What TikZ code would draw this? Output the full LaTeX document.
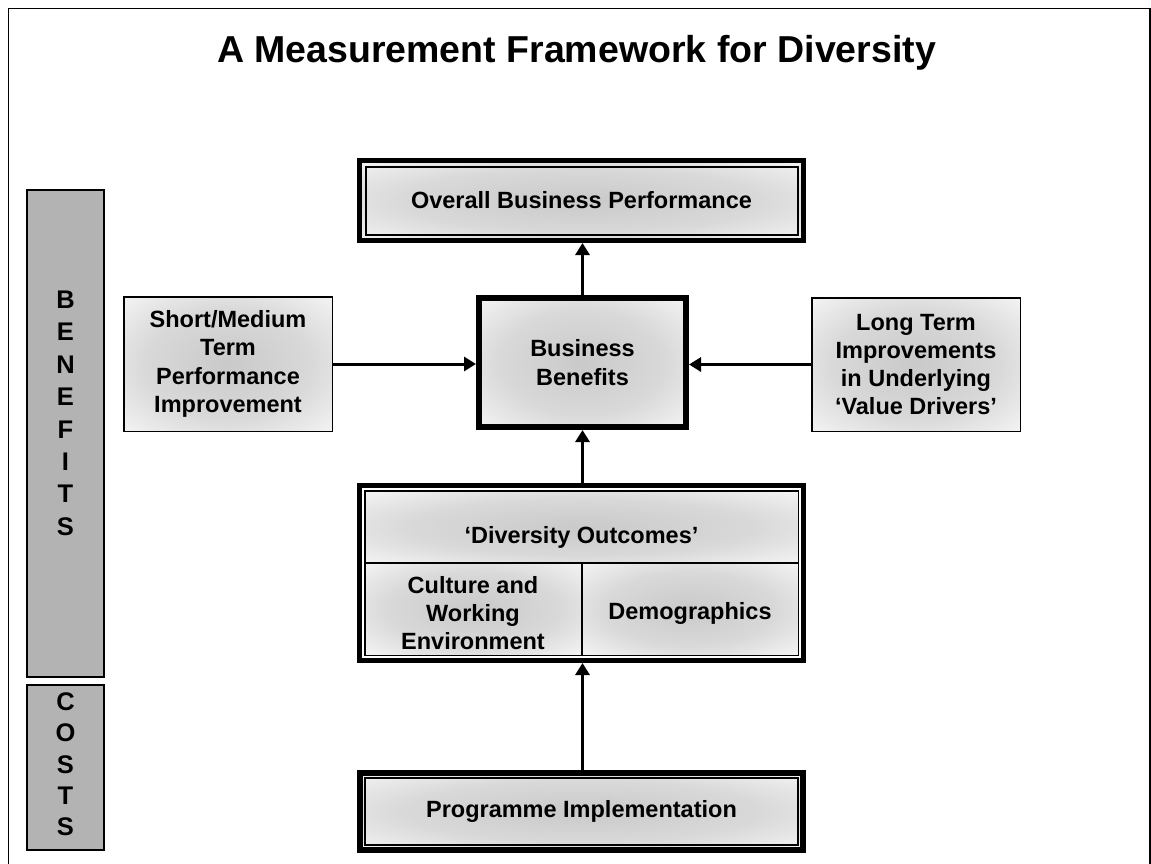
\documentclass[tikz,border=0pt]{standalone}
\usepackage{fontspec}
\setmainfont{Liberation Sans}
\usetikzlibrary{arrows.meta}
\pgfdeclareradialshading{boxglow}{\pgfpoint{0bp}{0bp}}{color(0bp)=(black!21); color(20bp)=(black!15); color(42bp)=(white); color(50bp)=(white)}
\definecolor{bargray}{HTML}{B3B3B3}
\begin{document}
\begin{tikzpicture}[x=1pt,y=-1pt,
  txt/.style={font=\bfseries\fontsize{23.5}{28.3}\selectfont, align=center},
  glow/.style={shading=boxglow},
  plainbox/.style={txt, glow, draw=black, line width=1.5pt, rectangle, inner sep=0pt, outer sep=0.75pt},
  thickbox/.style={txt, glow, draw=black, line width=#1, rectangle, inner sep=0pt, outer sep=0.5*#1},
  thinline/.style={draw=black, line width=#1},
  bar/.style={rectangle, fill=bargray, draw=black, line width=1.5pt, inner sep=0pt},
  barletters/.style={font=\bfseries\fontsize{25.5}{#1}\selectfont, align=center, inner sep=0pt, anchor=north},
  arr/.style={line width=3pt, -{Triangle[length=12pt,width=14pt]}}
]
\useasboundingbox (0,0) rectangle (1151,864);
% frame
\draw[line width=1.6pt] (8.5,864) -- (8.5,8.5) -- (1150.2,8.5) -- (1150.2,864);

% title
\node[font=\bfseries\fontsize{37.5}{40}\selectfont, anchor=base, inner sep=0pt] (title) at (576.5,63) {A Measurement Framework for Diversity};

% side bars
\node[bar, minimum width=77pt, minimum height=487pt] (benbar) at (65.5,433.5) {};
\node[bar, minimum width=77pt, minimum height=165pt] (costbar) at (65.5,767.5) {};
\node[barletters=32.4] (bentext) at (65.5,290.8) {B\\E\\N\\E\\F\\I\\T\\S};
\node[barletters=31.3] (costtext) at (65.5,692.5) {C\\O\\S\\T\\S};

% Overall Business Performance
\node[thickbox=5pt, minimum width=444pt, minimum height=80pt] (obp) at (581.5,200.5) {Overall Business Performance};
\draw[thinline=2pt] ([shift={(8.5,8.5)}]obp.north west) rectangle ([shift={(-8.5,-8.5)}]obp.south east);

% Business Benefits
\node[thickbox=6pt, minimum width=207pt, minimum height=129pt] (bb) at (582.5,362.5) {Business\\Benefits};
\draw[thinline=1.5pt] ([shift={(0.75,0.75)}]bb.north west) rectangle ([shift={(-0.75,-0.75)}]bb.south east);

% side boxes
\node[plainbox, minimum width=208.5pt, minimum height=134.5pt] (sm) at (228,364) {Short/Medium\\Term\\Performance\\Improvement};
\node[plainbox, minimum width=208.5pt, minimum height=133.5pt] (lt) at (916,364.5) {Long Term\\Improvements\\in Underlying\\‘Value Drivers’};

% Diversity Outcomes
\node[draw=black, line width=5pt, rectangle, inner sep=0pt, outer sep=2.5pt, minimum width=444pt, minimum height=175pt] (do) at (581.5,573) {};
\shade[shading=boxglow] (365.5,491.5) rectangle (797.5,563);
\shade[shading=boxglow] (365.5,563) rectangle (582,654.5);
\shade[shading=boxglow] (582,563) rectangle (797.5,654.5);
\draw[thinline=1.5pt] ([shift={(7.75,7.75)}]do.north west) rectangle ([shift={(-7.75,-7.75)}]do.south east);
\coordinate (divl) at (365.5,563);
\coordinate (divr) at (797.5,563);
\coordinate (divb) at (582,654.5);
\draw[thinline=1.5pt] (divl) -- (divr);
\draw[thinline=1.5pt] (divb |- divl) -- (divb);
\node[txt, anchor=base, inner sep=0pt] (dotitle) at (581.5,543) {‘Diversity Outcomes’};
\node[txt, inner sep=0pt] (culture) at (473,613) {Culture and\\Working\\Environment};
\node[txt, inner sep=0pt] (demo) at (690,613) {Demographics};

% Programme Implementation
\node[thickbox=6pt, minimum width=443pt, minimum height=77pt] (pi) at (581.5,811.5) {Programme Implementation};
\draw[thinline=2pt] ([shift={(8,8)}]pi.north west) rectangle ([shift={(-8,-8)}]pi.south east);

% arrows
\draw[arr] (bb.north) -- (bb.north |- obp.south);
\draw[arr] (sm.east) -- (sm.east -| bb.west);
\draw[arr] (lt.west) -- (lt.west -| bb.east);
\draw[arr] (bb.south |- do.north) -- (bb.south);
\draw[arr] (bb.south |- pi.north) -- (bb.south |- do.south);
\end{tikzpicture}
\end{document}
